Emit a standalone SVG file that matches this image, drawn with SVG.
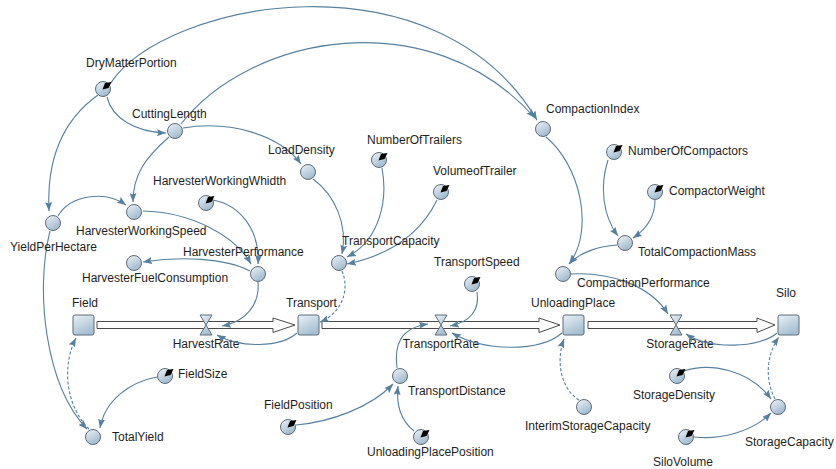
<svg xmlns="http://www.w3.org/2000/svg" xmlns:xlink="http://www.w3.org/1999/xlink" width="836" height="469" viewBox="0 0 836 469">
<style>
text{font-family:"Liberation Sans",Arial,sans-serif;font-size:12px;fill:#1e1e1e}
.aux{fill:url(#gAux);stroke:#5d6d7a;stroke-width:1}
.stock{fill:url(#gStock);stroke:#5d6d7a;stroke-width:1}
.valve{fill:url(#gStock);stroke:#5d6d7a;stroke-width:1}
.pipe{fill:#fff;stroke:#4a4a4a;stroke-width:1}
.c{fill:none;stroke:#56809f;stroke-width:1.1;marker-end:url(#ah)}
.d{stroke-dasharray:3 2}
.dial{fill:#000}
</style>
<defs>
<linearGradient id="gAux" x1="0" y1="0" x2="0.6" y2="1"><stop offset="0" stop-color="#eef3f8"/><stop offset="1" stop-color="#9fb9cd"/></linearGradient>
<linearGradient id="gStock" x1="0" y1="0" x2="0.5" y2="1"><stop offset="0" stop-color="#e9f0f6"/><stop offset="1" stop-color="#a6bfd2"/></linearGradient>
<marker id="ah" viewBox="0 0 9 7" refX="9" refY="3.5" markerWidth="9" markerHeight="7" markerUnits="userSpaceOnUse" orient="auto"><path d="M0,0 L9,3.5 L0,7 L1.5,3.5 Z" fill="#56809f"/></marker>
<path id="dial" d="M-0.5,0.5 L2,-6 L8.5,-7 L5.5,-1 Z"/>
</defs>

<!-- flows -->
<g id="harvestRate">
<path class="pipe" d="M97,321.5 L273,321.5 L273,318 L295,325 L273,332.5 L273,328.5 L97,328.5 Z"/>
<path class="valve" d="M200,315 L212,315 L206,325 Z M206,325 L200,335 L212,335 Z"/>
<text x="206" y="348" text-anchor="middle">HarvestRate</text>
</g>
<g id="transportRate">
<path class="pipe" d="M322,321.5 L539,321.5 L539,318 L560,325 L539,332.5 L539,328.5 L322,328.5 Z"/>
<path class="valve" d="M435,315 L447,315 L441,325 Z M441,325 L435,335 L447,335 Z"/>
<text x="441" y="348" text-anchor="middle">TransportRate</text>
</g>
<g id="storageRate">
<path class="pipe" d="M588,321.5 L757,321.5 L757,318 L775,325 L757,332.5 L757,328.5 L588,328.5 Z"/>
<path class="valve" d="M670,315 L682,315 L676,325 Z M676,325 L670,335 L682,335 Z"/>
<text x="680" y="348" text-anchor="middle">StorageRate</text>
</g>

<!-- connectors -->
<g id="connectors">
<path class="c" d="M98,95 C70,115 46,150 49,211"/>
<path class="c" d="M107,97 C112,118 135,132 166,133"/>
<path class="c" d="M110,84 C165,0 435,-50 537,120"/>
<path class="c" d="M181,124 C250,35 430,0 535,118"/>
<path class="c" d="M169,137 C145,158 133,175 133,202"/>
<path class="c" d="M183,128 C230,120 280,135 301,164"/>
<path class="c" d="M58,216 C70,195 105,190 126,205"/>
<path class="c" d="M143,211 C190,212 235,235 251,264"/>
<path class="c" d="M213,200 C240,205 260,230 258,264"/>
<path class="c" d="M250,271 C225,258 180,256 143,262"/>
<path class="c" d="M258,282 C260,305 245,322 222,326"/>
<path class="c" d="M297,333 C280,348 240,348 217,335"/>
<path class="c" d="M313,179 C335,195 348,225 342,254"/>
<path class="c" d="M382,168 C388,200 380,240 347,257"/>
<path class="c" d="M437,200 C420,235 390,255 347,264"/>
<path class="c d" d="M342,271 C350,290 342,313 320,322"/>
<path class="c" d="M477,292 C480,310 470,322 450,326"/>
<path class="c" d="M562,333 C540,352 485,352 452,333"/>
<path class="c" d="M397,368 C394,345 400,328 428,324"/>
<path class="c" d="M296,425 C330,422 370,408 393,384"/>
<path class="c" d="M414,431 C400,420 396,405 398,386"/>
<path class="c" d="M546,137 C580,165 595,230 569,264"/>
<path class="c" d="M608,160 C600,185 602,215 618,236"/>
<path class="c" d="M655,200 C655,215 648,228 633,238"/>
<path class="c" d="M617,245 C600,246 580,252 569,264"/>
<path class="c" d="M571,274 C610,272 650,285 668,314"/>
<path class="c" d="M777,333 C760,348 710,350 686,334"/>
<path class="c d" d="M579,400 C560,388 556,360 564,339"/>
<path class="c" d="M684,371 C710,362 750,370 771,399"/>
<path class="c" d="M694,437 C720,440 752,432 771,413"/>
<path class="c d" d="M775,399 C765,380 766,355 779,337"/>
<path class="c" d="M157,377 C130,382 105,400 100,428"/>
<path class="c" d="M50,231 C35,290 45,385 87,429"/>
<path class="c d" d="M89,429 C65,405 62,365 76,338"/>
</g>

<!-- stocks -->
<g id="field"><rect class="stock" x="73" y="315" width="21" height="20" rx="2"/><text x="72" y="307">Field</text></g>
<g id="transport"><rect class="stock" x="298" y="315" width="21" height="20" rx="2"/><text x="286" y="307">Transport</text></g>
<g id="unloadingPlace"><rect class="stock" x="563" y="315" width="21" height="20" rx="2"/><text x="531" y="307">UnloadingPlace</text></g>
<g id="silo"><rect class="stock" x="778" y="315" width="21" height="20" rx="2"/><text x="776" y="297">Silo</text></g>

<!-- auxiliaries -->
<g id="dryMatterPortion"><circle class="aux" cx="103" cy="89" r="7.5"/><use href="#dial" class="dial" x="103" y="89"/><text x="86" y="67">DryMatterPortion</text></g>
<g id="cuttingLength"><circle class="aux" cx="175" cy="131" r="7.5"/><text x="132" y="118">CuttingLength</text></g>
<g id="loadDensity"><circle class="aux" cx="308" cy="172" r="7.5"/><text x="268" y="154">LoadDensity</text></g>
<g id="numberOfTrailers"><circle class="aux" cx="379" cy="160" r="7.5"/><use href="#dial" class="dial" x="379" y="160"/><text x="367" y="144">NumberOfTrailers</text></g>
<g id="volumeofTrailer"><circle class="aux" cx="441" cy="192" r="7.5"/><use href="#dial" class="dial" x="441" y="192"/><text x="433" y="175">VolumeofTrailer</text></g>
<g id="transportCapacity"><circle class="aux" cx="339" cy="263" r="7.5"/><text x="342" y="245">TransportCapacity</text></g>
<g id="transportSpeed"><circle class="aux" cx="472" cy="284" r="7.5"/><use href="#dial" class="dial" x="472" y="284"/><text x="434" y="266">TransportSpeed</text></g>
<g id="compactionIndex"><circle class="aux" cx="543" cy="129" r="7.5"/><text x="546" y="113">CompactionIndex</text></g>
<g id="numberOfCompactors"><circle class="aux" cx="614" cy="152" r="7.5"/><use href="#dial" class="dial" x="614" y="152"/><text x="628" y="155">NumberOfCompactors</text></g>
<g id="compactorWeight"><circle class="aux" cx="655" cy="192" r="7.5"/><use href="#dial" class="dial" x="655" y="192"/><text x="669" y="195">CompactorWeight</text></g>
<g id="totalCompactionMass"><circle class="aux" cx="625" cy="243" r="7.5"/><text x="638" y="256">TotalCompactionMass</text></g>
<g id="compactionPerformance"><circle class="aux" cx="563" cy="274" r="7.5"/><text x="577" y="287">CompactionPerformance</text></g>
<g id="yieldPerHectare"><circle class="aux" cx="53" cy="223" r="7.5"/><text x="10" y="251">YieldPerHectare</text></g>
<g id="harvesterWorkingSpeed"><circle class="aux" cx="134" cy="212" r="7.5"/><text x="76" y="235">HarvesterWorkingSpeed</text></g>
<g id="harvesterWorkingWhidth"><circle class="aux" cx="206" cy="203" r="7.5"/><use href="#dial" class="dial" x="206" y="203"/><text x="153" y="185">HarvesterWorkingWhidth</text></g>
<g id="harvesterPerformance"><circle class="aux" cx="258" cy="274" r="7.5"/><text x="183" y="256">HarvesterPerformance</text></g>
<g id="harvesterFuelConsumption"><circle class="aux" cx="134" cy="263" r="7.5"/><text x="82" y="282">HarvesterFuelConsumption</text></g>
<g id="fieldSize"><circle class="aux" cx="165" cy="376" r="7.5"/><use href="#dial" class="dial" x="165" y="376"/><text x="178" y="378">FieldSize</text></g>
<g id="totalYield"><circle class="aux" cx="93" cy="437" r="7.5"/><text x="112" y="441">TotalYield</text></g>
<g id="fieldPosition"><circle class="aux" cx="288" cy="427" r="7.5"/><use href="#dial" class="dial" x="288" y="427"/><text x="264" y="409">FieldPosition</text></g>
<g id="transportDistance"><circle class="aux" cx="400" cy="376" r="7.5"/><text x="408" y="395">TransportDistance</text></g>
<g id="unloadingPlacePosition"><circle class="aux" cx="421" cy="437" r="7.5"/><use href="#dial" class="dial" x="421" y="437"/><text x="367" y="456">UnloadingPlacePosition</text></g>
<g id="interimStorageCapacity"><circle class="aux" cx="584" cy="407" r="7.5"/><text x="525" y="430">InterimStorageCapacity</text></g>
<g id="storageDensity"><circle class="aux" cx="677" cy="376" r="7.5"/><use href="#dial" class="dial" x="677" y="376"/><text x="633" y="399">StorageDensity</text></g>
<g id="storageCapacity"><circle class="aux" cx="778" cy="407" r="7.5"/><text x="745" y="446">StorageCapacity</text></g>
<g id="siloVolume"><circle class="aux" cx="686" cy="437" r="7.5"/><use href="#dial" class="dial" x="686" y="437"/><text x="653" y="466">SiloVolume</text></g>
</svg>
